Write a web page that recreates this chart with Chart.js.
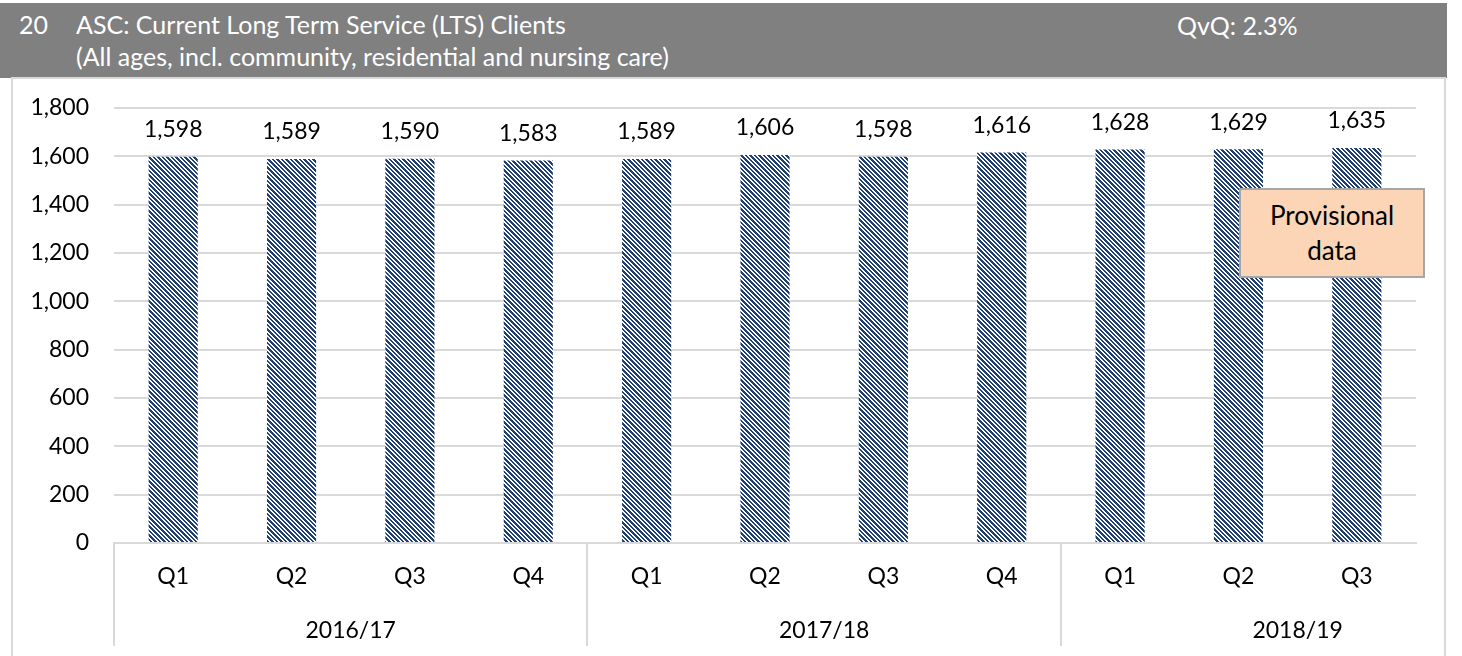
<!DOCTYPE html>
<html lang="en">
<head>
    <meta charset="UTF-8">
    <title>ASC: Current Long Term Service (LTS) Clients</title>
    <script src="https://cdn.jsdelivr.net/npm/chart.js"></script>
    <style>
        html, body {
            margin: 0;
            padding: 0;
            background: #ffffff;
            width: 1462px;
            height: 656px;
            overflow: hidden;
            font-family: Lato, "Open Sans", sans-serif;
        }
        #cabecera {
            position: absolute;
            left: 0;
            top: 3px;
            width: 1447px;
            height: 75px;
            background-color: #808080;
            color: #ffffff;
            font-size: 25px;
        }
        #cabecera span {
            position: absolute;
            white-space: nowrap;
            line-height: 30px;
        }
        #marco {
            position: absolute;
            left: 11px;
            top: 77px;
            width: 1431px;
            height: 620px;
            border: 2px solid #d9d9d9;
        }
        #grafico {
            position: absolute;
            left: 0;
            top: 0;
        }
        #provisional {
            position: absolute;
            left: 1239px;
            top: 188px;
            width: 182px;
            height: 86px;
            background-color: #fbd5b5;
            border: 2px solid #a6a6a6;
            color: #000000;
            font-size: 26px;
            line-height: 35px;
            text-align: center;
            display: flex;
            flex-direction: column;
            justify-content: center;
        }
    </style>
</head>
<body>
    <div id="cabecera">
        <span style="left:19px; top:6px;">20</span>
        <span style="left:76px; top:6px;">ASC: Current Long Term Service (LTS) Clients</span>
        <span style="left:76px; top:38px;">(All ages, incl. community, residential and nursing care)</span>
        <span style="left:1177px; top:7px;">QvQ: 2.3%</span>
    </div>
    <div id="marco"></div>
    <canvas id="grafico" width="1462" height="656"></canvas>
    <div id="provisional"><div>Provisional</div><div>data</div></div>

    <script>
        // datos
        const trimestres = ["Q1", "Q2", "Q3", "Q4", "Q1", "Q2", "Q3", "Q4", "Q1", "Q2", "Q3"];
        const anios = ["2016/17", "2017/18", "2018/19"];
        const inicioAnio = [0, 4, 8];
        const clientes = [1598, 1589, 1590, 1583, 1589, 1606, 1598, 1616, 1628, 1629, 1635];
        const ticksY = [0, 200, 400, 600, 800, 1000, 1200, 1400, 1600, 1800];

        const AZUL = "#1f3f78";
        const GRIS = "#d9d9d9";
        const FUENTE = "Lato, 'Open Sans', sans-serif";

        // rayas diagonales tipo Excel (periodo ~4.5 px)
        function patronRayas(ctx) {
            let c = document.createElement("canvas");
            c.width = 9;
            c.height = 9;
            let g = c.getContext("2d");
            g.fillStyle = "#ffffff";
            g.fillRect(0, 0, 9, 9);
            g.fillStyle = AZUL;
            for (let y = 0; y < 9; y++) {
                for (let x = 0; x < 9; x++) {
                    let m = (((x - y) % 9) + 9) % 9;
                    if (m < 3 || m == 5 || m == 6) g.fillRect(x, y, 1, 1);
                }
            }
            return ctx.createPattern(c, "repeat");
        }

        const fmt = v => Number(v).toLocaleString("en-US");

        // etiquetas de valor, anios y separadores del eje
        const extras = {
            id: "extras",
            afterDatasetsDraw(chart) {
                const ctx = chart.ctx;
                const x = chart.scales.x;
                const meta = chart.getDatasetMeta(0);
                ctx.save();
                ctx.font = "23px " + FUENTE;
                ctx.fillStyle = "#000000";
                ctx.textAlign = "center";
                ctx.textBaseline = "middle";
                meta.data.forEach((bar, i) => {
                    ctx.fillText(fmt(clientes[i]), bar.x, bar.y - 27);
                });

                const base = chart.chartArea.bottom;
                const paso = x.getPixelForValue(1) - x.getPixelForValue(0);
                ctx.strokeStyle = GRIS;
                ctx.lineWidth = 2;
                let cortes = [chart.chartArea.left];
                inicioAnio.slice(1).forEach(s => cortes.push(x.getPixelForValue(s) - paso / 2));
                cortes.forEach(px => {
                    ctx.beginPath();
                    ctx.moveTo(Math.round(px), base);
                    ctx.lineTo(Math.round(px), base + 103);
                    ctx.stroke();
                });

                anios.forEach((a, k) => {
                    let cx = x.getPixelForValue(inicioAnio[k]) + paso * 1.5;
                    ctx.fillText(a, cx, base + 88);
                });
                ctx.restore();
            }
        };

        let ctx = document.getElementById("grafico").getContext("2d");
        new Chart(ctx, {
            type: "bar",
            data: {
                labels: trimestres,
                datasets: [{
                    data: clientes,
                    backgroundColor: patronRayas(ctx),
                    borderWidth: 0,
                    barPercentage: 0.415,
                    categoryPercentage: 1
                }]
            },
            options: {
                responsive: false,
                animation: false,
                events: [],
                layout: { padding: { left: 0, right: 46, top: 108, bottom: 0 } },
                plugins: {
                    legend: { display: false },
                    tooltip: { enabled: false }
                },
                scales: {
                    x: {
                        grid: { display: false, drawTicks: false },
                        border: { color: GRIS, width: 2 },
                        ticks: {
                            color: "#000000",
                            font: { family: FUENTE, size: 23 },
                            padding: 20,
                            maxRotation: 0,
                            autoSkip: false
                        },
                        afterFit(s) { s.height = 113; }
                    },
                    y: {
                        min: 0,
                        max: 1800,
                        afterBuildTicks(s) { s.ticks = ticksY.map(v => ({ value: v })); },
                        grid: { color: GRIS, lineWidth: 2, drawTicks: false },
                        border: { display: false },
                        ticks: {
                            color: "#000000",
                            font: { family: FUENTE, size: 23 },
                            padding: 25,
                            callback: v => fmt(v)
                        },
                        afterFit(s) { s.width = 114; }
                    }
                }
            },
            plugins: [extras]
        });
    </script>
</body>
</html>
